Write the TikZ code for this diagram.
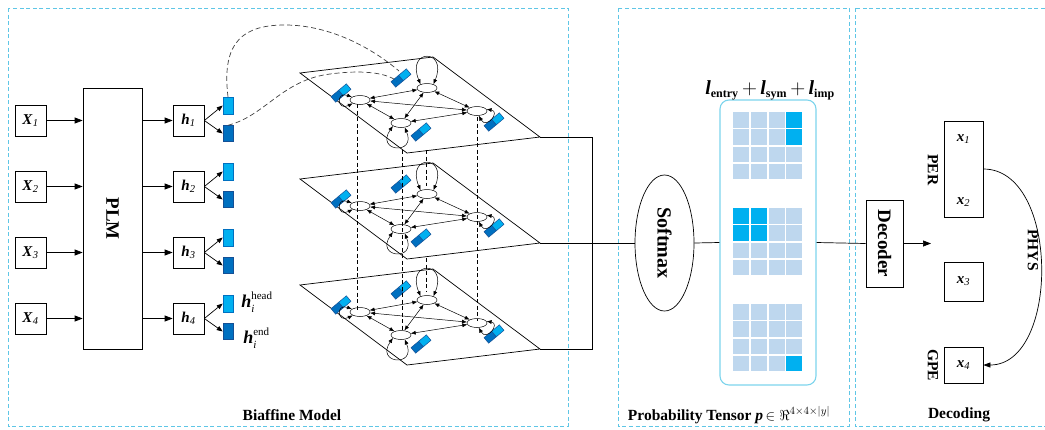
\documentclass[tikz,border=0pt]{standalone}
\usepackage{fontspec}
\setmainfont{Liberation Serif}
\usetikzlibrary{arrows.meta,shapes.geometric,calc}
\definecolor{frameblue}{RGB}{95,198,230}
\definecolor{lightblk}{RGB}{0,176,240}
\definecolor{darkblk}{RGB}{0,112,192}
\definecolor{blkedge}{RGB}{20,80,150}
\definecolor{cellpale}{RGB}{190,215,238}
\definecolor{cellhot}{RGB}{0,176,240}
\definecolor{panelline}{RGB}{125,212,236}
\newcommand{\bi}[1]{\textbf{\textit{#1}}}
\newcommand{\hvec}[1]{\bi{h}\rlap{\raisebox{7.5pt}{\fontsize{11}{12}\selectfont #1}}\raisebox{-5pt}{\fontsize{11}{12}\selectfont\itshape i}}
\begin{document}
\begin{tikzpicture}[x=1pt,y=-1pt,line width=0.7pt,
  frame/.style={draw=frameblue,dash pattern=on 4pt off 2.6pt,line width=0.9pt},
  sqbox/.style={draw,minimum width=31pt,minimum height=31pt,inner sep=0pt,font=\fontsize{15}{17}\selectfont},
  tallbox/.style={draw,inner sep=0pt},
  headrect/.style={draw=darkblk,fill=lightblk,minimum width=10pt,minimum height=17pt,inner sep=0pt,line width=0.5pt},
  endrect/.style={draw=blkedge,fill=darkblk,minimum width=10pt,minimum height=16pt,inner sep=0pt,line width=0.5pt},
  gnode/.style={ellipse,draw,fill=white,minimum width=20pt,minimum height=9pt,inner sep=0pt,line width=0.5pt},
  marrow/.style={-{Triangle[length=8pt,width=6pt]}},
  sarrow/.style={-{Triangle[length=6pt,width=4.5pt]}},
  garrow/.style={{Latex[length=5pt,width=4pt]}-{Latex[length=5pt,width=4pt]},line width=0.5pt},
  vlink/.style={dashed,dash pattern=on 4pt off 2.5pt,line width=0.6pt},
  curvelink/.style={dash pattern=on 5pt off 3pt,line width=0.7pt,draw=black!75},
  lbl/.style={font=\fontsize{15.5}{18}\selectfont\bfseries,inner sep=0pt},
  rotlbl/.style={font=\fontsize{15.5}{18}\selectfont\bfseries,inner sep=0pt,rotate=-90},
]
\useasboundingbox (0,0) rectangle (1045,429);

% section frames
\draw[frame] (8,8) rectangle (568,426);
\draw[frame] (618,8) rectangle (849,426);
\draw[frame] (855,8) rectangle (1050,426);
\node[lbl] (biaffinelbl) at (292,415) {Biaffine Model};
\node[lbl] (problbl) at (729,415) {Probability Tensor \bi{p}\,$\in\Re^{4\times4\times|y|}$};
\node[lbl] (declbl) at (959,415) {Decoding};

% encoder
\node[tallbox,minimum width=59pt,minimum height=261pt,
  label={[rotate=-90,font=\fontsize{19}{21}\selectfont\bfseries]center:PLM}] (plm) at (112.5,218.5) {};
\foreach \i/\y in {1/120.5,2/186.5,3/252.5,4/318.5}{
  \node[sqbox] (x\i) at (30.5,\y) {\bi{X}\textsubscript{\textit{\i}}};
  \node[sqbox] (h\i) at (188.5,\y) {\bi{h}\textsubscript{\textit{\i}}};
  \node[headrect] (hl\i) at (228,\y-15) {};
  \node[endrect] (hd\i) at (228,\y+13) {};
  \draw[marrow] (x\i.east) -- (x\i.east -| plm.west);
  \draw[marrow] (h\i.west -| plm.east) -- (h\i.west);
  \draw[sarrow] (h\i.east) -- (hl\i.west);
  \draw[sarrow] (h\i.east) -- (hd\i.west);
}
\node[anchor=west,inner sep=0pt,font=\fontsize{18}{20}\selectfont] (headlbl) at (241,302) {\hvec{head}};
\node[anchor=west,inner sep=0pt,font=\fontsize{18}{20}\selectfont] (endlbl) at (243,338) {\hvec{end}};

% stacked biaffine planes
\foreach \k/\dy in {1/0,2/106,3/212}{
\begin{scope}[yshift=-\dy pt]
  \draw[line width=0.7pt] (300,73) -- (433,57) -- (540,137) -- (407,153) -- cycle;
  \coordinate (R\k) at (540,137);
  % span blocks (end part dark, head part light)
  \foreach \cx/\cy in {341/93,401/78,421/132,494/122}{
    \begin{scope}[shift={(\cx,\cy)},rotate=40]
      \filldraw[fill=darkblk,draw=blkedge,line width=0.5pt] (-10,-3.6) rectangle (0,3.6);
      \filldraw[fill=lightblk,draw=blkedge,line width=0.5pt] (0,-3.6) rectangle (10,3.6);
    \end{scope}
  }
  \node[gnode] (A\k) at (360,100) {};
  \node[gnode] (B\k) at (427,88) {};
  \node[gnode] (C\k) at (401,123) {};
  \node[gnode] (D\k) at (477,111) {};
  \draw[garrow] (A\k) -- (B\k);
  \draw[garrow] (A\k) -- (C\k);
  \draw[garrow] (A\k) -- (D\k);
  \draw[garrow] (B\k) -- (C\k);
  \draw[garrow] (B\k) -- (D\k);
  \draw[garrow] (C\k) -- (D\k);
  % self loops
  \draw[garrow] (B\k.150) .. controls +(-15,-36) and +(15,-36) .. (B\k.30);
  \draw[garrow] (C\k.200) .. controls +(-18,26) and +(12,28) .. (C\k.310);
  \draw[garrow] (A\k.160) .. controls +(-16,-6) and +(-16,8) .. (A\k.205);
  \draw[garrow] (D\k.10) .. controls +(14,2) and +(8,14) .. (D\k.290);
\end{scope}
}

% vertical correspondences between planes
\draw[vlink] (357,104) -- (357,311);
\draw[vlink] (402,150) -- (402,331);
\draw[vlink] (426,150) -- (426,186);
\draw[vlink] (426,258) -- (426,292);
\draw[vlink] (477,117) -- (477,321);

% head / end vectors feeding the first plane
\coordinate (pa) at (399,71);
\coordinate (pb) at (397,81);
\draw[curvelink] (hl1.north) .. controls (221,40) and (245,25) .. (285,25)
                 .. controls (330,25) and (372,48) .. (pa);
\draw[curvelink] (hd1.north) .. controls (265,116) and (282,80) .. (330,74)
                 .. controls (360,70) and (385,72) .. (pb);

% aggregation into softmax
\coordinate (brt) at (592,137);
\coordinate (brb) at (592,349);
\draw (R1) -- (brt) -- (brb) -- (R3);
\node[ellipse,draw,minimum width=59pt,minimum height=136pt,inner sep=0pt,
  label={[rotate=-90,font=\fontsize{20}{22}\selectfont\bfseries]center:Softmax}] (soft) at (664.5,243) {};
\draw (R2) -- (soft.west);

% probability tensor
\node[draw=panelline,line width=1.1pt,rounded corners=9pt,minimum width=96pt,minimum height=285pt,inner sep=0pt] (panel) at (768,242.5) {};
\node[inner sep=0pt,font=\fontsize{20}{22}\selectfont] (losslbl) at (770,90)
  {\bi{l}\textsubscript{\fontsize{12}{13}\selectfont\bfseries entry}\,$+$\,\bi{l}\textsubscript{\fontsize{12}{13}\selectfont\bfseries sym}\,$+$\,\bi{l}\textsubscript{\fontsize{12}{13}\selectfont\bfseries imp}};
\foreach \gy in {112,208,304}{
  \foreach \i in {0,1,2,3}{
    \foreach \j in {0,1,2,3}{
      \fill[cellpale] (733+17.75*\i,\gy+17.25*\j) rectangle +(16.2,15.7);
    }
  }
}
\foreach \i/\j/\gy in {3/0/112,3/1/112,0/0/208,1/0/208,0/1/208,1/1/208,3/3/304}{
  \fill[cellhot] (733+17.75*\i,\gy+17.25*\j) rectangle +(16.2,15.7);
}
\draw (soft.east) -- (panel.west);

% decoding
\node[tallbox,minimum width=37pt,minimum height=87pt,
  label={[rotate=-90,font=\fontsize{19}{21}\selectfont\bfseries]center:Decoder}] (dec) at (884.5,243.5) {};
\draw (panel.east) -- (dec.west);
\coordinate (dout) at (931,243.5);
\draw[marrow] (dec.east) -- (dout);

\node[tallbox,minimum width=39pt,minimum height=96pt] (per) at (963.5,169) {};
\node[inner sep=0pt,font=\fontsize{15}{17}\selectfont] (e1) at (963.5,139) {\bi{x}\textsubscript{\textit{1}}};
\node[inner sep=0pt,font=\fontsize{15}{17}\selectfont] (e2) at (963.5,202) {\bi{x}\textsubscript{\textit{2}}};
\node[tallbox,minimum width=39pt,minimum height=39pt,font=\fontsize{15}{17}\selectfont] (e3) at (963.5,281.5) {\bi{x}\textsubscript{\textit{3}}};
\node[tallbox,minimum width=39pt,minimum height=36pt,font=\fontsize{15}{17}\selectfont] (e4) at (963.5,365) {\bi{x}\textsubscript{\textit{4}}};
\node[rotlbl] (perlbl) at (933,170) {PER};
\node[rotlbl] (gpelbl) at (933,365) {GPE};
\draw[-{Triangle[length=7pt,width=5pt]}] (per.east) .. controls (1060,169) and (1060,365) .. (e4.east);
\node[rotlbl] (physlbl) at (1033,250) {PHYS};
\end{tikzpicture}
\end{document}
